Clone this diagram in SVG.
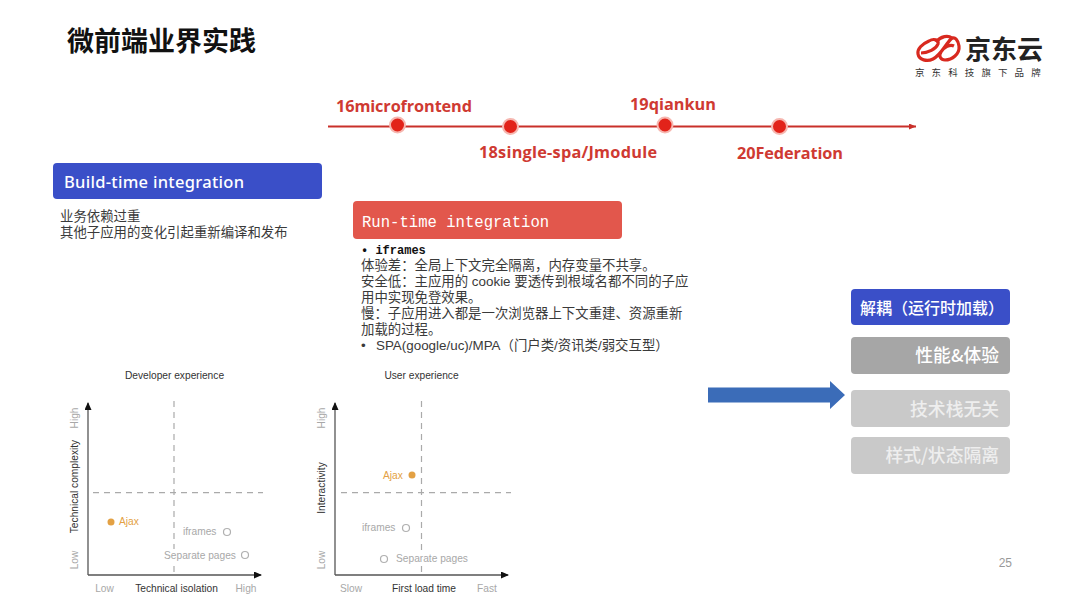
<svg xmlns="http://www.w3.org/2000/svg" width="1080" height="608" viewBox="0 0 1080 608">
<defs>
<style>
.cn{font-family:"Noto Sans CJK SC","Noto Sans",sans-serif}
.s{font-family:"Liberation Sans",Arial,sans-serif;font-size:10.2px;fill:#a8a8a8}
.d{fill:#333}
.o{fill:#e3a144}
.dash{stroke:#aaa;stroke-width:1.2;stroke-dasharray:6 5;fill:none}
.ax{stroke:#555;stroke-width:1.3;fill:none}
.ring{fill:#fff;stroke:#b0b0b0;stroke-width:1.2}
.tl{font-family:"Open Sans","Noto Sans",sans-serif;font-weight:700;font-size:16.3px;fill:#cf3a32}
.dot{fill:#e2231a;stroke:#f6b7b0;stroke-width:2}
.b{font-family:"Liberation Sans","Noto Sans CJK SC",sans-serif;font-size:13.4px;fill:#3a3a3a}
.side{font-family:"Noto Sans CJK SC",sans-serif;font-size:17.8px;font-weight:500;fill:#fff;text-anchor:end}
</style>
<marker id="tip" markerWidth="8" markerHeight="8" refX="7" refY="3.5" orient="auto" markerUnits="userSpaceOnUse"><path d="M0 0L8 3.5L0 7z" fill="#111"/></marker>
<marker id="red" markerWidth="8" markerHeight="8" refX="7" refY="3" orient="auto" markerUnits="userSpaceOnUse"><path d="M0 0L7 3L0 6z" fill="#c9302a"/></marker>
</defs>
<rect width="1080" height="608" fill="#fff"/>
<text x="67" y="51" class="cn" font-size="27" font-weight="700" fill="#111">微前端业界实践</text>

<g id="logo">
<path d="M921 53C928 53 936 49 938 44C939 40 934 38 929 41C922 44 917 49 918 54C919 60 927 62 933 59C941 55 945 45 951 39C955 36 958 40 959 46C960 54 952 60 945 60C941 60 938 56 941 52C944 47 950 44 954 46" fill="none" stroke="#d8291f" stroke-width="3.200"/>
<path d="M936 42C941 36 948 35 952 38" fill="none" stroke="#d8291f" stroke-width="3.200"/>
<text x="965" y="59" class="cn" font-size="26" font-weight="700" fill="#222">京东云</text>
<text x="915" y="76" class="cn" font-size="9.500" letter-spacing="7.100" fill="#333">京东科技旗下品牌</text>
</g>

<g id="timeline">
<line x1="328" y1="126.500" x2="916" y2="126.500" stroke="#c9302a" stroke-width="2" marker-end="url(#red)"/>
<circle class="dot" cx="397.500" cy="125" r="7.500"/>
<circle class="dot" cx="510.500" cy="126.500" r="7.500"/>
<circle class="dot" cx="665" cy="125" r="7.500"/>
<circle class="dot" cx="779.500" cy="126.500" r="7.500"/>
<text class="tl" x="336" y="112" textLength="136">16microfrontend</text>
<text class="tl" x="479" y="158" textLength="178">18single-spa/Jmodule</text>
<text class="tl" x="630" y="110" textLength="86">19qiankun</text>
<text class="tl" x="737" y="159" textLength="106">20Federation</text>
</g>

<g id="build-time">
<rect x="53" y="163" width="269" height="36" rx="4" fill="#3a4fc8"/>
<text x="64" y="188" font-family="Noto Sans,sans-serif" font-size="16.500" font-weight="500" fill="#fff" textLength="180">Build-time integration</text>
<text class="b"><tspan x="60" y="221">业务依赖过重</tspan><tspan x="60" y="237">其他子应用的变化引起重新编译和发布</tspan></text>
</g>

<g id="run-time">
<rect x="353" y="201" width="269" height="38" rx="4" fill="#e2574c"/>
<text x="362" y="227" font-family="Liberation Mono,monospace" font-size="15.600" fill="#fff">Run-time integration</text>
<text class="b"><tspan x="361" y="254" font-family="Liberation Mono,monospace" font-size="12" font-weight="700" fill="#111">• iframes</tspan><tspan x="361" y="270">体验差：全局上下文完全隔离，内存变量不共享。</tspan><tspan x="361" y="286">安全低：主应用的 cookie 要透传到根域名都不同的子应</tspan><tspan x="361" y="302">用中实现免登效果。</tspan><tspan x="361" y="318">慢：子应用进入都是一次浏览器上下文重建、资源重新</tspan><tspan x="361" y="334">加载的过程。</tspan><tspan x="361" y="350">•</tspan><tspan x="376" y="350">SPA(google/uc)/MPA（门户类/资讯类/弱交互型）</tspan></text>
</g>

<g id="chart-developer">
<text class="s d" x="174.500" y="379" text-anchor="middle">Developer experience</text>
<line class="dash" x1="174" y1="401" x2="174" y2="572"/>
<line class="dash" x1="93" y1="492.700" x2="263" y2="492.700"/>
<path class="ax" d="M88 575V403" marker-end="url(#tip)"/>
<path class="ax" d="M88 575H261" marker-end="url(#tip)"/>
<text class="s" transform="translate(78 418) rotate(-90)" text-anchor="middle">High</text>
<text class="s d" transform="translate(78 486.500) rotate(-90)" text-anchor="middle">Technical complexity</text>
<text class="s" transform="translate(78 560) rotate(-90)" text-anchor="middle">Low</text>
<text class="s" x="104.500" y="592" text-anchor="middle">Low</text>
<text class="s d" x="176.500" y="592" text-anchor="middle">Technical isolation</text>
<text class="s" x="246" y="592" text-anchor="middle">High</text>
<circle class="o" cx="111" cy="522" r="3.500"/>
<text class="s o" x="119" y="525">Ajax</text>
<text class="s" x="183" y="535">iframes</text>
<circle class="ring" cx="227" cy="532" r="3.500"/>
<rect x="163" y="549" width="74" height="13" fill="#fff"/>
<text class="s" x="164" y="559">Separate pages</text>
<circle class="ring" cx="245" cy="555" r="3.500"/>
</g>

<g id="chart-user">
<text class="s d" x="421.500" y="379" text-anchor="middle">User experience</text>
<line class="dash" x1="421.500" y1="401" x2="421.500" y2="572"/>
<line class="dash" x1="341" y1="492.700" x2="511" y2="492.700"/>
<path class="ax" d="M335 575V403" marker-end="url(#tip)"/>
<path class="ax" d="M335 575H508" marker-end="url(#tip)"/>
<text class="s" transform="translate(325 418) rotate(-90)" text-anchor="middle">High</text>
<text class="s d" transform="translate(325 488) rotate(-90)" text-anchor="middle">Interactivity</text>
<text class="s" transform="translate(325 560) rotate(-90)" text-anchor="middle">Low</text>
<text class="s" x="351" y="592" text-anchor="middle">Slow</text>
<text class="s d" x="424" y="592" text-anchor="middle">First load time</text>
<text class="s" x="487" y="592" text-anchor="middle">Fast</text>
<text class="s o" x="383" y="479">Ajax</text>
<circle class="o" cx="412" cy="475" r="3.500"/>
<text class="s" x="362" y="531">iframes</text>
<circle class="ring" cx="406" cy="528" r="3.500"/>
<circle class="ring" cx="384" cy="559" r="3.500"/>
<rect x="395" y="552" width="74" height="13" fill="#fff"/>
<text class="s" x="396" y="562">Separate pages</text>
</g>

<g id="arrow"><path d="M708 387.500H830V381L845 395L830 409V402.500H708z" fill="#3b6cb8"/></g>

<g id="side-1"><rect x="851" y="289" width="159" height="36" rx="4" fill="#3a4fc8"/><text x="860" y="314" font-family="Noto Sans CJK SC,sans-serif" font-size="16" font-weight="500" fill="#fff">解耦（运行时加载）</text></g>
<g id="side-2"><rect x="851" y="337" width="159" height="37" rx="4" fill="#a6a6a6"/><text class="side" x="999" y="362">性能&amp;体验</text></g>
<g id="side-3"><rect x="851" y="390" width="159" height="37" rx="4" fill="#c9c9c9"/><text class="side" x="999" y="416" style="fill:#eee">技术栈无关</text></g>
<g id="side-4"><rect x="851" y="437" width="159" height="37" rx="4" fill="#c9c9c9"/><text class="side" x="999" y="462" style="fill:#eee">样式/状态隔离</text></g>

<text x="1012" y="567" text-anchor="end" font-family="Liberation Sans,sans-serif" font-size="12" fill="#999">25</text>
</svg>
